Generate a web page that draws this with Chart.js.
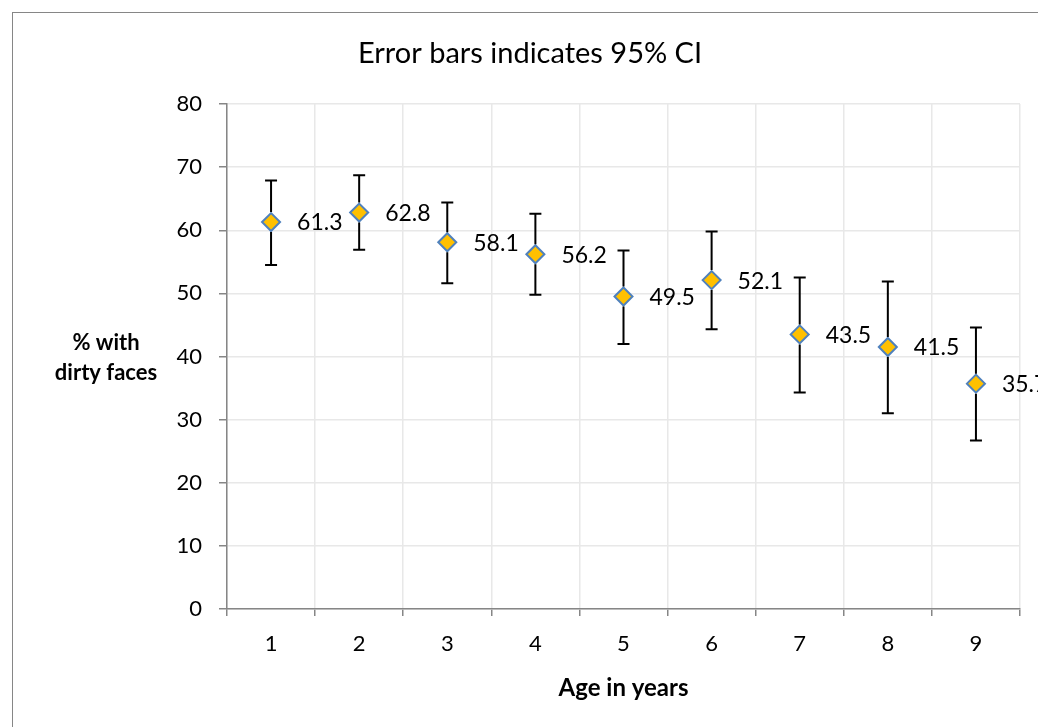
<!DOCTYPE html>
<html>
<head>
<meta charset="utf-8">
<script src="https://cdn.jsdelivr.net/npm/chart.js@4"></script>
<style>
  html, body { margin: 0; padding: 0; background: #fff; }
  #wrap { width: 1038px; height: 727px; position: relative; }
</style>
</head>
<body>
<div id="wrap"><canvas id="ciChart"></canvas></div>
<script>
// Age categories (x axis)
var ages = ["1", "2", "3", "4", "5", "6", "7", "8", "9"];

// % with dirty faces, with 95% CI limits
var pctDirty = [61.3, 62.8, 58.1, 56.2, 49.5, 52.1, 43.5, 41.5, 35.7];
var ciLower  = [54.5, 56.9, 51.6, 49.8, 42.0, 44.3, 34.3, 31.0, 26.7];
var ciUpper  = [67.9, 68.7, 64.4, 62.6, 56.8, 59.8, 52.5, 51.9, 44.6];

var chartTitle = "Error bars indicates 95% CI";

var FONT = "Lato, 'Open Sans', sans-serif";
var AXIS_GREY = "#868686";

// Outer frame like the spreadsheet chart box, plus the title
var framePlugin = {
    id: "frame",
    beforeDraw(chart) {
        var ctx = chart.ctx;
        ctx.save();
        ctx.strokeStyle = AXIS_GREY;
        ctx.lineWidth = 1;
        ctx.strokeRect(12.5, 12.5, 1200, 900);
        ctx.fillStyle = "#000";
        ctx.font = "29px " + FONT;
        ctx.textAlign = "center";
        ctx.textBaseline = "middle";
        ctx.fillText(chartTitle, 530, 54);
        ctx.restore();
    }
};

// Error bars + value labels drawn from the arrays through the scales
var errorBarPlugin = {
    id: "errorBars",
    afterDatasetsDraw(chart) {
        var ctx = chart.ctx;
        var x = chart.scales.x, y = chart.scales.y;
        ctx.save();
        ctx.strokeStyle = "#000";
        ctx.lineWidth = 2;
        ages.forEach((a, i) => {
            var px = x.getPixelForValue(i);
            var top = y.getPixelForValue(ciUpper[i]);
            var bot = y.getPixelForValue(ciLower[i]);
            var mid = y.getPixelForValue(pctDirty[i]);
            ctx.beginPath();
            ctx.moveTo(px, top); ctx.lineTo(px, mid - 10);
            ctx.moveTo(px, mid + 10); ctx.lineTo(px, bot);
            ctx.moveTo(px - 6, top); ctx.lineTo(px + 6, top);
            ctx.moveTo(px - 6, bot); ctx.lineTo(px + 6, bot);
            ctx.stroke();
        });
        // value labels to the right of each point
        ctx.fillStyle = "#000";
        ctx.font = "23px " + FONT;
        ctx.textAlign = "left";
        ctx.textBaseline = "middle";
        pctDirty.forEach((v, i) => {
            ctx.fillText(v.toFixed(1), x.getPixelForValue(i) + 26, y.getPixelForValue(v) + 1);
        });
        // horizontal y-axis title
        var ca = chart.chartArea;
        var cy = (ca.top + ca.bottom) / 2;
        ctx.font = "bold 22px " + FONT;
        ctx.textAlign = "center";
        ctx.fillText("% with", 106, cy - 14);
        ctx.fillText("dirty faces", 106, cy + 16);
        ctx.restore();
    }
};

new Chart(document.getElementById("ciChart"), {
    type: "line",
    data: {
        labels: ages,
        datasets: [{
            label: "% with dirty faces",
            data: pctDirty,
            showLine: false,
            pointStyle: "rectRot",
            pointRadius: 9,
            pointHoverRadius: 9,
            pointBackgroundColor: "#FFC000",
            pointBorderColor: "#4F81BD",
            pointBorderWidth: 2
        }]
    },
    options: {
        responsive: true,
        maintainAspectRatio: false,
        animation: false,
        layout: { padding: { left: 0, right: 18, top: 104, bottom: 0 } },
        scales: {
            x: {
                type: "category",
                offset: true,
                afterFit(scale) { scale.height = 118; },
                grid: { offset: true, color: "#e8e8e8", tickColor: AXIS_GREY, tickLength: 7, lineWidth: 1.5 },
                border: { color: AXIS_GREY, width: 1.5 },
                ticks: { color: "#000", font: { family: FONT, size: 22 }, padding: 15, maxRotation: 0 },
                title: {
                    display: true,
                    text: "Age in years",
                    color: "#000",
                    font: { family: FONT, size: 24, weight: "bold" },
                    padding: { top: 0, bottom: 24 }
                }
            },
            y: {
                min: 0,
                max: 80,
                afterFit(scale) { scale.width = 227; },
                grid: { color: "#e8e8e8", tickColor: AXIS_GREY, tickLength: 8, lineWidth: 1.5 },
                border: { color: AXIS_GREY, width: 1.5 },
                ticks: { stepSize: 10, color: "#000", font: { family: FONT, size: 22 }, padding: 17 }
            }
        },
        plugins: {
            legend: { display: false },
            tooltip: { enabled: false },
            title: { display: false }
        }
    },
    plugins: [framePlugin, errorBarPlugin]
});
</script>
</body>
</html>
